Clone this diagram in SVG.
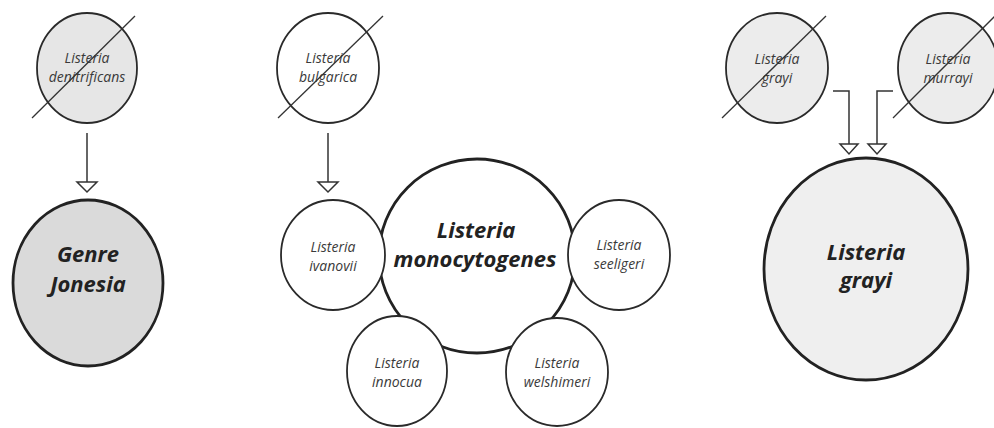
<svg xmlns="http://www.w3.org/2000/svg" width="994" height="428" viewBox="0 0 994 428">
<defs>
<style>
.sm{stroke:#2a2a2a;stroke-width:1.8}
.big{stroke:#222;stroke-width:2.8}
.strike{stroke:#333;stroke-width:1.3;fill:none}
.t{font-family:"Open Sans","Liberation Sans",sans-serif;font-style:italic;font-size:14px;fill:#3a3a3a;text-anchor:middle}
.tb{font-family:"Open Sans","Liberation Sans",sans-serif;font-style:italic;font-weight:bold;font-size:22px;fill:#222;text-anchor:middle}
.conn{stroke:#333;stroke-width:1.5;fill:none}
.head{stroke:#333;stroke-width:1.5;fill:#fff}
</style>
</defs>
<rect width="994" height="428" fill="#fff"/>
<g id="connectors">
<path class="conn" d="M87 133 V182"/>
<polygon class="head" points="77,182 97,182 87,192"/>
<path class="conn" d="M328 133 V182"/>
<polygon class="head" points="318,182 338,182 328,192"/>
<path class="conn" d="M833 91 H849 V144"/>
<polygon class="head" points="840,144 858,144 849,154"/>
<path class="conn" d="M893 91 H877 V144"/>
<polygon class="head" points="868,144 886,144 877,154"/>
</g>
<g id="denitrificans">
<ellipse class="sm" cx="87" cy="68" rx="50" ry="55" fill="#e6e6e6"/>
<text class="t" x="87" y="63">Listeria</text>
<text class="t" x="87" y="82">denitrificans</text>
<line class="strike" x1="32" y1="118" x2="135" y2="16"/>
</g>
<g id="jonesia">
<ellipse class="big" cx="88" cy="283" rx="75" ry="83" fill="#dadada"/>
<text class="tb" x="88" y="262">Genre</text>
<text class="tb" x="88" y="292">Jonesia</text>
</g>
<g id="bulgarica">
<ellipse class="sm" cx="328" cy="68" rx="51" ry="55" fill="#fff"/>
<text class="t" x="328" y="63">Listeria</text>
<text class="t" x="328" y="82">bulgarica</text>
<line class="strike" x1="278" y1="118" x2="383" y2="16"/>
</g>
<g id="monocytogenes">
<ellipse class="big" cx="477" cy="256" rx="98" ry="97" fill="#fff"/>
<text class="tb" x="476" y="238">Listeria</text>
<text class="tb" x="475" y="267">monocytogenes</text>
</g>
<g id="ivanovii">
<ellipse class="sm" cx="333" cy="255" rx="52" ry="55" fill="#fff"/>
<text class="t" x="333" y="252">Listeria</text>
<text class="t" x="333" y="271">ivanovii</text>
</g>
<g id="seeligeri">
<ellipse class="sm" cx="619" cy="255" rx="51" ry="55" fill="#fff"/>
<text class="t" x="619" y="250">Listeria</text>
<text class="t" x="619" y="269">seeligeri</text>
</g>
<g id="innocua">
<ellipse class="sm" cx="397" cy="371" rx="50" ry="55" fill="#fff"/>
<text class="t" x="397" y="368">Listeria</text>
<text class="t" x="397" y="387">innocua</text>
</g>
<g id="welshimeri">
<ellipse class="sm" cx="557" cy="372" rx="51" ry="54" fill="#fff"/>
<text class="t" x="557" y="368">Listeria</text>
<text class="t" x="557" y="387">welshimeri</text>
</g>
<g id="grayi-small">
<ellipse class="sm" cx="777" cy="68" rx="51" ry="55" fill="#ececec"/>
<text class="t" x="777" y="64">Listeria</text>
<text class="t" x="777" y="83">grayi</text>
<line class="strike" x1="722" y1="118" x2="826" y2="16"/>
</g>
<g id="murrayi">
<ellipse class="sm" cx="948" cy="68" rx="50" ry="55" fill="#ececec"/>
<text class="t" x="948" y="64">Listeria</text>
<text class="t" x="948" y="83">murrayi</text>
<line class="strike" x1="893" y1="118" x2="996" y2="15"/>
</g>
<g id="grayi">
<ellipse class="big" cx="866" cy="269" rx="102" ry="111" fill="#efefef"/>
<text class="tb" x="866" y="260">Listeria</text>
<text class="tb" x="866" y="288">grayi</text>
</g>
</svg>
